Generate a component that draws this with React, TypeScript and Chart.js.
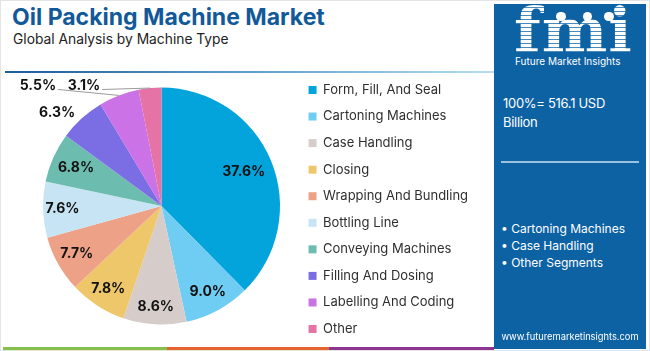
import React, { useEffect, useRef } from "react";
import { Chart, registerables } from "chart.js";

Chart.register(...registerables);

const categories = [
  "Form, Fill, And Seal",
  "Cartoning Machines",
  "Case Handling",
  "Closing",
  "Wrapping And Bundling",
  "Bottling Line",
  "Conveying Machines",
  "Filling And Dosing",
  "Labelling And Coding",
  "Other",
];
const shares = [37.6, 9.0, 8.6, 7.8, 7.7, 7.6, 6.8, 6.3, 5.5, 3.1];
const sliceColors = [
  "#02a4db",
  "#6fcdf3",
  "#d6cdcb",
  "#efc76b",
  "#eda287",
  "#c7e4f4",
  "#6cbcb0",
  "#7b6ee4",
  "#cb72e6",
  "#e673a6",
];
const panelBullets = ["Cartoning Machines", "Case Handling", "Other Segments"];
const totalText = "100%= 516.1 USD";
const totalUnit = "Billion";

// label placement style: radial factor, angle shift (deg), leader offset
const labelRadius = [0.75, 0.82, 0.85, 0.83, 0.82, 0.835, 0.79, 1.18, 0, 0];
const labelAngleShift = [0, 0, 0, 0, 0, 0, 0, -6, 0, 0];
const labelLeader = [0, 0, 0, 0, 0, 0, 0, 0, 81, 66];

const FONT = "Inter, 'Open Sans', sans-serif";
const LEGEND_SIZE = 13;
const LEGEND_PAD = 13.56;
const LEGEND_BOX = 8;
const CANVAS_W = 493;
const LEGEND_LEFT = 294;

const labelPlugin = {
  id: "sliceLabels",
  afterDatasetsDraw(chart: any) {
    const ctx = chart.ctx;
    const meta = chart.getDatasetMeta(0);
    ctx.save();
    ctx.font = `bold 14px ${FONT}`;
    ctx.fillStyle = "#111";
    ctx.textBaseline = "middle";
    meta.data.forEach((arc: any, i: number) => {
      const p = arc.getProps(["x", "y", "startAngle", "endAngle", "outerRadius"], true);
      const text = shares[i].toFixed(1) + "%";
      const mid = (p.startAngle + p.endAngle) / 2;
      if (labelLeader[i] > 0) {
        const ax = p.x + Math.cos(mid) * p.outerRadius;
        const ay = p.y + Math.sin(mid) * p.outerRadius;
        const lx = ax - labelLeader[i];
        const ly = p.y - p.outerRadius - 1.5;
        const w = ctx.measureText(text).width;
        ctx.strokeStyle = "#9a9a9a";
        ctx.lineWidth = 1;
        ctx.beginPath();
        ctx.moveTo(lx + w / 2 + 2, ly + 3.5);
        ctx.lineTo(ax, ay);
        ctx.stroke();
        ctx.textAlign = "center";
        ctx.fillText(text, lx, ly);
      } else {
        const a = mid + (labelAngleShift[i] * Math.PI) / 180;
        const r = p.outerRadius * labelRadius[i];
        ctx.textAlign = "center";
        ctx.fillText(text, p.x + Math.cos(a) * r, p.y + Math.sin(a) * r);
      }
    });
    ctx.restore();
  },
};

function legendWidth(): number {
  const c = document.createElement("canvas").getContext("2d");
  if (!c) return 190;
  c.font = `normal ${LEGEND_SIZE}px ${FONT}`;
  let m = 0;
  categories.forEach((t) => {
    m = Math.max(m, LEGEND_BOX + LEGEND_SIZE / 2 + c.measureText(t).width);
  });
  return LEGEND_PAD + m + 10;
}

export default function App() {
  const ref = useRef<HTMLCanvasElement | null>(null);
  useEffect(() => {
    if (!ref.current) return;
    const lw = legendWidth();
    const padRight = Math.max(0, CANVAS_W - LEGEND_LEFT - lw);
    const padLeft = 2 * 160.5 - LEGEND_LEFT;
    const chart = new Chart(ref.current, {
      type: "pie",
      data: {
        labels: categories,
        datasets: [
          {
            data: shares,
            backgroundColor: sliceColors,
            borderWidth: 0,
            radius: 118.5,
          } as any,
        ],
      },
      options: {
        responsive: false,
        animation: false,
        layout: { padding: { left: padLeft, right: padRight, top: 0, bottom: 0 } },
        plugins: {
          tooltip: { enabled: false },
          legend: {
            position: "right",
            title: { display: true, text: "", padding: 0, font: { size: 5, lineHeight: 1.4 } },
            labels: {
              boxWidth: LEGEND_BOX,
              boxHeight: LEGEND_BOX,
              padding: LEGEND_PAD,
              color: "#2f2f2f",
              font: { family: FONT, size: LEGEND_SIZE },
            },
          },
        },
      },
      plugins: [labelPlugin],
    });
    return () => chart.destroy();
  }, []);

  return (
    <div
      style={{
        position: "fixed",
        left: 0,
        top: 0,
        width: 650,
        height: 351,
        overflow: "hidden",
        background: "#fff",
        fontFamily: FONT,
        boxSizing: "border-box",
        border: "1px solid #e4e4e4",
      }}
    >
      <div style={{ position: "absolute", left: 11, top: 2, fontSize: 23, fontWeight: 700, color: "#12599a", whiteSpace: "nowrap" }}>
        Oil Packing Machine Market
      </div>
      <div style={{ position: "absolute", left: 12, top: 30, fontSize: 13.8, color: "#222", whiteSpace: "nowrap" }}>
        Global Analysis by Machine Type
      </div>
      <div
        style={{
          position: "absolute",
          left: 4,
          top: 70,
          width: 489,
          height: 2,
          background: "linear-gradient(to right, #1b5d96, #5d9fcc 50%, #b7def0)",
        }}
      />
      <canvas ref={ref} width={CANVAS_W} height={290} style={{ position: "absolute", left: 0, top: 60, width: CANVAS_W, height: 290 }} />
      <div style={{ position: "absolute", left: 2, top: 346, width: 164, height: 3, background: "#86bf4c" }} />
      <div style={{ position: "absolute", left: 166, top: 346, width: 162, height: 3, background: "#e5642f" }} />
      <div style={{ position: "absolute", left: 328, top: 346, width: 165, height: 3, background: "#8d3592" }} />
      <div
        style={{
          position: "absolute",
          left: 493,
          top: 3,
          width: 152,
          height: 345,
          background: "#0d62a4",
          color: "#fff",
        }}
      >
        <div
          style={{
            position: "absolute",
            left: 20,
            top: -4,
            fontFamily: "'DejaVu Serif', serif",
            fontWeight: 700,
            fontSize: 62,
            lineHeight: "62px",
            letterSpacing: 1,
            background:
              "repeating-linear-gradient(to bottom, #ffffff 0px, #ffffff 3px, rgba(255,255,255,0.25) 3px, rgba(255,255,255,0.25) 4px)",
            WebkitBackgroundClip: "text",
            backgroundClip: "text",
            color: "transparent",
          }}
        >
          fmi
        </div>
        <div style={{ position: "absolute", left: 62, top: 8, width: 10, height: 9, borderRadius: 5, background: "#fff" }} />
        <div style={{ position: "absolute", left: 89, top: 8, width: 9, height: 9, borderRadius: 5, background: "#fff" }} />
        <div style={{ position: "absolute", left: 110, top: 8, width: 10, height: 9, borderRadius: 5, background: "#fff" }} />
        <div style={{ position: "absolute", left: 21, top: 51, fontSize: 10, whiteSpace: "nowrap" }}>Future Market Insights</div>
        <div style={{ position: "absolute", left: 9, top: 90, fontSize: 13, letterSpacing: -0.3, lineHeight: "19px", whiteSpace: "nowrap" }}>
          {totalText}
          <br />
          {totalUnit}
        </div>
        <div style={{ position: "absolute", left: 7, top: 157, width: 138, height: 2, background: "#9cc2e2" }} />
        <div style={{ position: "absolute", left: 7, top: 216, fontSize: 12, lineHeight: "17px", whiteSpace: "nowrap" }}>
          {panelBullets.map((b) => (
            <div key={b}>• {b}</div>
          ))}
        </div>
        <div style={{ position: "absolute", left: 0, width: 152, top: 327, fontSize: 9.3, textAlign: "center", whiteSpace: "nowrap" }}>
          www.futuremarketinsights.com
        </div>
      </div>
    </div>
  );
}
